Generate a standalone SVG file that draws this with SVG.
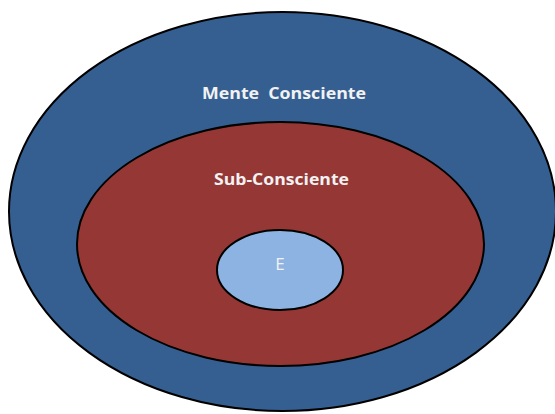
<svg xmlns="http://www.w3.org/2000/svg" width="555" height="414" viewBox="0 0 555 414">
<style>
.e{stroke:#000;stroke-width:2}
.t{font-family:"Open Sans","Liberation Sans",Arial,sans-serif;fill:#F2F2F2;text-anchor:middle}
</style>
<rect width="555" height="414" fill="#fff"/>
<g id="mente">
<ellipse class="e" cx="282.5" cy="211.5" rx="273.5" ry="199.5" fill="#365F91"/>
<text class="t" x="284" y="99" font-size="16" font-weight="bold" textLength="164" lengthAdjust="spacingAndGlyphs" xml:space="preserve">Mente  Consciente</text>
</g>
<g id="sub">
<ellipse class="e" cx="280.5" cy="244" rx="203.5" ry="122" fill="#953735"/>
<text class="t" x="281.5" y="185" font-size="16" font-weight="bold" textLength="135" lengthAdjust="spacingAndGlyphs">Sub-Consciente</text>
</g>
<g id="e">
<ellipse class="e" cx="280" cy="270" rx="63" ry="40" fill="#8DB3E2"/>
<text class="t" x="280" y="270" font-size="17">E</text>
</g>
</svg>
